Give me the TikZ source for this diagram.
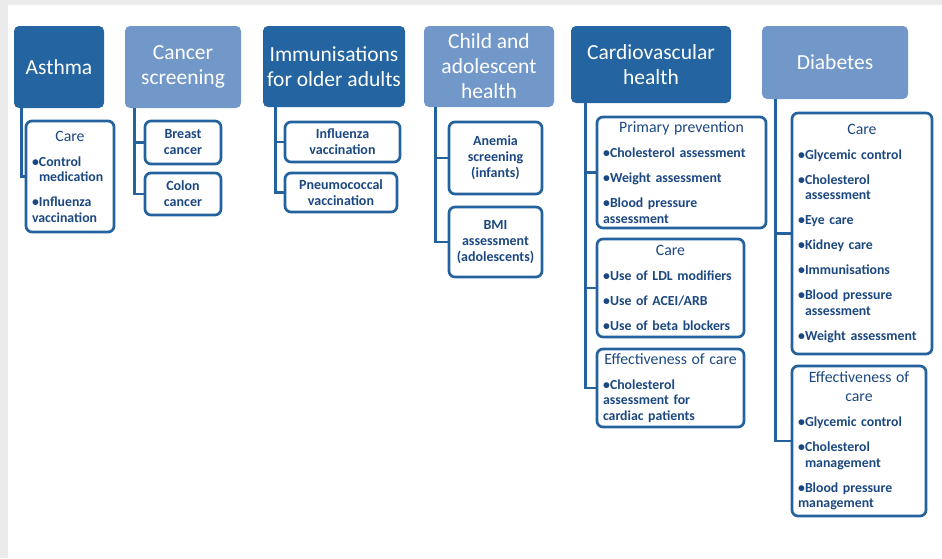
\documentclass[tikz,border=0pt]{standalone}
\usepackage{fontspec}
\setmainfont{Carlito}
\usepackage{tikz}
\usetikzlibrary{positioning,calc}

\definecolor{darkhead}{RGB}{36,100,160}
\definecolor{lighthead}{RGB}{114,152,202}
\definecolor{boxblue}{RGB}{36,98,158}
\definecolor{textblue}{RGB}{28,72,130}
\definecolor{bandgray}{RGB}{235,235,235}

\newcommand{\bul}[1]{\par\vspace{9.5pt}\hangindent=7pt\hangafter=1\noindent\makebox[7pt][l]{\textbullet}#1}
\newcommand{\boxtitle}[1]{{\centering\mdseries\fontsize{15.8}{19}\selectfont #1\par}}

\begin{document}
\begin{tikzpicture}[x=1pt,y=-1pt,
    head/.style={rounded corners=5pt,text=white,align=center,
                 font=\fontsize{21.5}{25}\selectfont,inner sep=2pt},
    dark/.style={head,fill=darkhead},
    light/.style={head,fill=lighthead},
    sub/.style={draw=boxblue,line width=2.7pt,rounded corners=6pt,fill=white,
                text=textblue,font=\bfseries\fontsize{14}{16}\selectfont,
                inner xsep=6pt,inner ysep=2pt,align=center},
    sublist/.style={sub,align=left,font=\bfseries\fontsize{13.8}{15.5}\selectfont},
    link/.style={draw=boxblue,line width=2.8pt}]

\useasboundingbox (0,0) rectangle (942,558);
\fill[bandgray] (0,0) rectangle (942,5);
\fill[bandgray] (0,0) rectangle (8,558);

\node[dark,minimum width=90pt,minimum height=82pt] (asthma) at (59,67) {Asthma};
\node[light,minimum width=116pt,minimum height=82pt] (cancer) at (183,67) {Cancer\\screening};
\node[dark,minimum width=142pt,minimum height=81pt] (immun) at (334,66.5) {Immunisations\\for older adults};
\node[light,minimum width=130pt,minimum height=81pt] (child) at (489,66.5) {Child and\\adolescent\\health};
\node[dark,minimum width=160pt,minimum height=77pt] (cardio) at (651,64.5) {Cardiovascular\\health};
\node[light,minimum width=146pt,minimum height=73pt] (diab) at (835,62.5) {Diabetes};

\node[sublist,text width=76pt,minimum width=88pt,minimum height=111pt] (acare) at (70,176.5)
    {\boxtitle{Care}\bul{Control\newline medication}\bul{Influenza\newline vaccination}};

\node[sub,text width=64pt,minimum width=76pt,minimum height=43pt] (breast) at (183,142.5) {Breast\\cancer};
\node[sub,text width=64pt,minimum width=76pt,minimum height=42pt] (colon) at (183,194) {Colon\\cancer};

\node[sub,text width=103pt,minimum width=115pt,minimum height=40pt] (influenza) at (342.5,142) {Influenza\\vaccination};
\node[sub,text width=100pt,minimum width=112pt,minimum height=39pt] (pneumo) at (341,192.5) {Pneumococcal\\vaccination};

\node[sub,text width=81pt,minimum width=93pt,minimum height=72pt] (anemia) at (495.5,158) {Anemia\\screening\\(infants)};
\node[sub,text width=81pt,minimum width=93pt,minimum height=70pt] (bmi) at (495.5,242) {BMI\\assessment\\(adolescents)};

\node[sublist,text width=157pt,minimum width=169pt,minimum height=111pt] (prim) at (681.5,172.5)
    {\boxtitle{Primary prevention}\bul{Cholesterol assessment}\bul{Weight assessment}\bul{Blood pressure\newline assessment}};
\node[sublist,text width=135pt,minimum width=147pt,minimum height=98pt] (cvcare) at (670.5,288)
    {\boxtitle{Care}\bul{Use of LDL modifiers}\bul{Use of ACEI/ARB}\bul{Use of beta blockers}};
\node[sublist,text width=135pt,minimum width=147pt,minimum height=78pt] (cveff) at (670.5,388)
    {\boxtitle{Effectiveness of care}\bul{Cholesterol\newline assessment for\newline cardiac patients}};

\node[sublist,text width=128pt,minimum width=140pt,minimum height=241pt] (dmcare) at (862,233.5)
    {\boxtitle{Care}\bul{Glycemic control}\bul{Cholesterol\newline assessment}\bul{Eye care}\bul{Kidney care}
     \bul{Immunisations}\bul{Blood pressure\newline assessment}\bul{Weight assessment}};
\node[sublist,text width=122pt,minimum width=134pt,minimum height=150pt] (dmeff) at (859,441)
    {\boxtitle{Effectiveness of\\care}\bul{Glycemic control}\bul{Cholesterol\newline management}\bul{Blood pressure\newline management}};

\draw[link] ([xshift=8pt]asthma.south west) |- (acare.west);
\draw[link] ([xshift=10pt]cancer.south west) |- (breast.west);
\draw[link] ([xshift=10pt]cancer.south west) |- (colon.west);
\draw[link] ([xshift=13pt]immun.south west) |- (influenza.west);
\draw[link] ([xshift=13pt]immun.south west) |- (pneumo.west);
\draw[link] ([xshift=12pt]child.south west) |- (anemia.west);
\draw[link] ([xshift=12pt]child.south west) |- (bmi.west);
\draw[link] ([xshift=15pt]cardio.south west) |- (prim.west);
\draw[link] ([xshift=15pt]cardio.south west) |- (cvcare.west);
\draw[link] ([xshift=15pt]cardio.south west) |- (cveff.west);
\draw[link] ([xshift=14pt]diab.south west) |- (dmcare.west);
\draw[link] ([xshift=14pt]diab.south west) |- (dmeff.west);

\end{tikzpicture}
\end{document}
